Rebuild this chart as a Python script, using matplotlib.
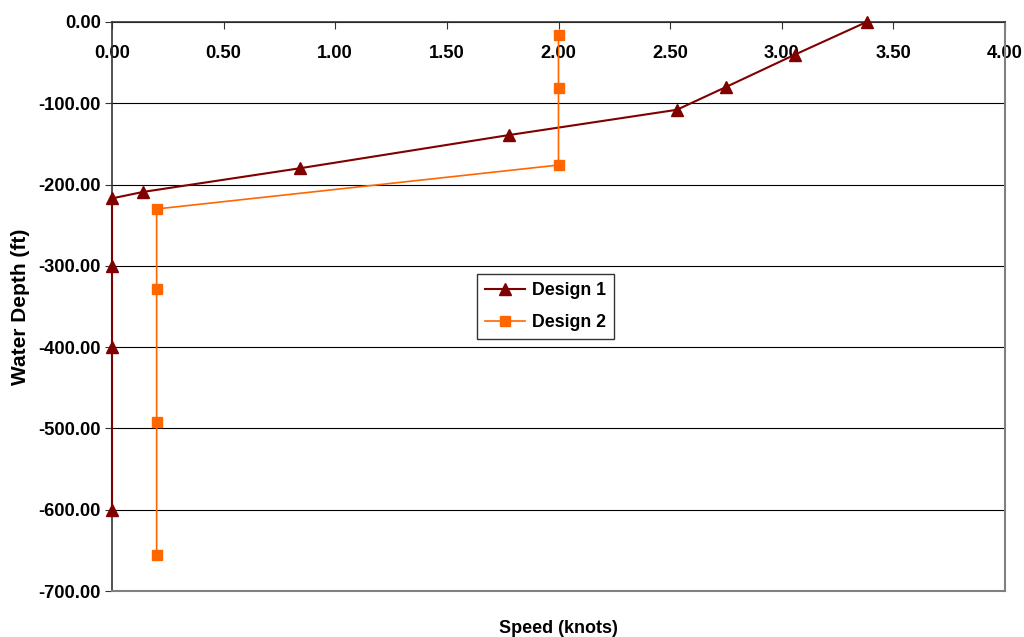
import matplotlib
matplotlib.use("Agg")
import matplotlib.pyplot as plt
from matplotlib.ticker import FormatStrFormatter

plt.rcParams['font.family'] = ['Liberation Sans', 'DejaVu Sans']
plt.rcParams['font.weight'] = 'bold'

# Design 1 (speed in knots, depth in ft)
d1_speed = [3.38, 3.06, 2.75, 2.53, 1.78, 0.84, 0.14, 0.0, 0.0, 0.0, 0.0]
d1_depth = [0, -40, -80, -108, -139, -180, -209, -217, -300, -400, -600]

# Design 2
d2_speed = [2.0, 2.0, 2.0, 0.2, 0.2, 0.2, 0.2]
d2_depth = [-16, -81, -176, -230, -328, -492, -656]

x_ticks = [0.0, 0.5, 1.0, 1.5, 2.0, 2.5, 3.0, 3.5, 4.0]
y_ticks = [0, -100, -200, -300, -400, -500, -600, -700]

fig = plt.figure(figsize=(10.24, 6.37), dpi=100)
ax = fig.add_axes([112/1024, 1-591/637, 893/1024, 569/637])

ax.plot(d1_speed, d1_depth, color='#800000', lw=1.5, marker='^', ms=8,
        label='Design 1', zorder=3, clip_on=False)
ax.plot(d2_speed, d2_depth, color='#FF6600', lw=1.2, marker='s', ms=7.5,
        label='Design 2', zorder=3, clip_on=False)

ax.set_xlim(0, 4)
ax.set_ylim(-700, 0)
ax.set_xticks(x_ticks)
ax.set_yticks(y_ticks)
ax.xaxis.set_major_formatter(FormatStrFormatter('%.2f'))
ax.yaxis.set_major_formatter(FormatStrFormatter('%.2f'))

ax.yaxis.grid(True, color='#000000', lw=0.8)
ax.set_axisbelow(True)

ax.tick_params(axis='x', top=True, bottom=False, labeltop=True, labelbottom=False,
               direction='in', length=5, pad=-29, labelsize=13.2, color='#333333')
ax.tick_params(axis='y', direction='out', length=5, labelsize=13.2, pad=3, color='#333333')

for sp in ['left', 'top']:
    ax.spines[sp].set_color('#333333')
    ax.spines[sp].set_linewidth(1.2)
for sp in ['right', 'bottom']:
    ax.spines[sp].set_color('#808080')
    ax.spines[sp].set_linewidth(1.5)

ax.set_ylabel('Water Depth (ft)', fontsize=15, fontweight='bold', labelpad=6)
ax.xaxis.set_label_position('bottom')
ax.set_xlabel('Speed (knots)', fontsize=13, fontweight='bold', labelpad=21)

leg = ax.legend(loc='center', bbox_to_anchor=(0.4855, 0.5), fontsize=12.8,
                frameon=True, fancybox=False, edgecolor='black', borderpad=0.45,
                handlelength=2.2, labelspacing=0.85, handletextpad=0.4,
                borderaxespad=0.0)
leg.get_frame().set_linewidth(1.0)

fig.savefig('out.png', dpi=100)
